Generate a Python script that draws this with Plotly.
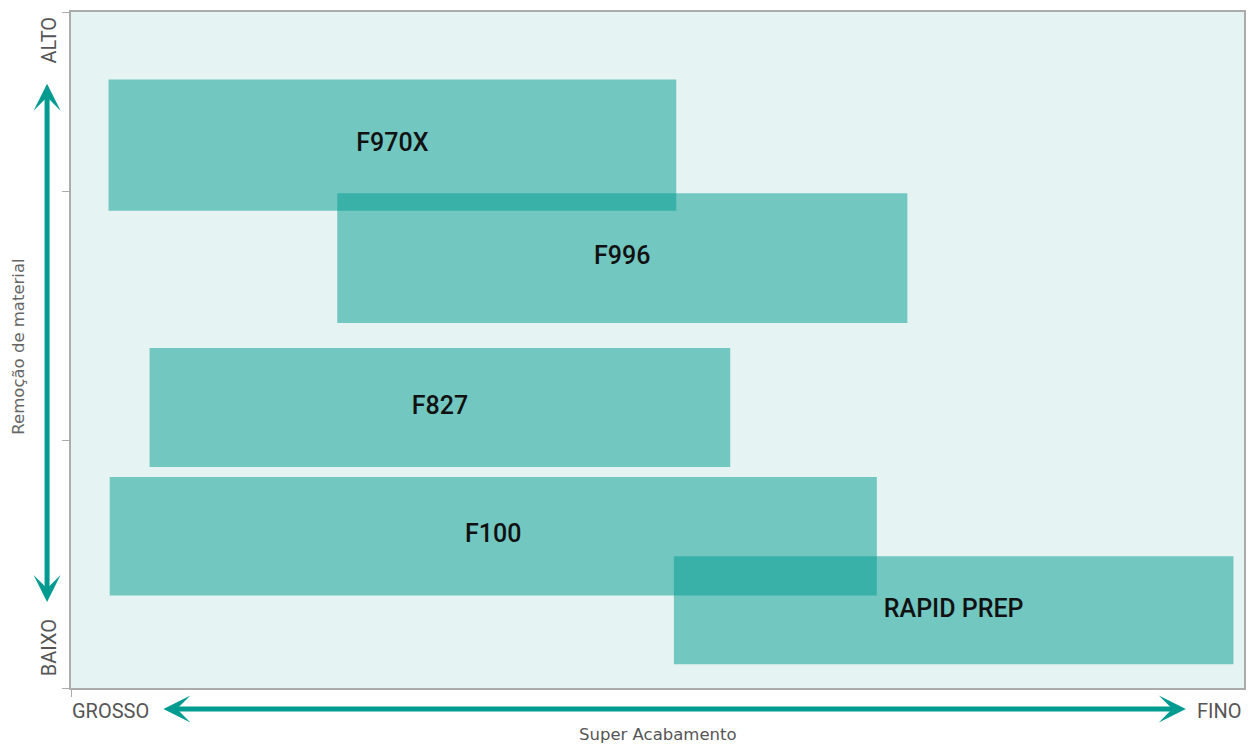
import plotly.graph_objects as go

# Data (normalized 0-100 scales: x = acabamento, y = remoção de material)
products = ["F970X", "F996", "F827", "F100", "RAPID PREP"]
x_start = [3.2, 22.7, 6.7, 3.3, 51.4]
x_end = [51.6, 71.3, 56.2, 68.7, 99.1]
y_low = [70.6, 54.0, 32.7, 13.7, 3.5]
y_high = [90.0, 73.2, 50.3, 31.2, 19.5]
y_ticks = [0, 36.6, 73.4, 100]
x_ticks = [0]

TEAL = "rgb(0,155,144)"
FILL = "rgba(0,155,144,0.5)"
GRAY = "#555555"

fig = go.Figure()

shapes = []
for x0, x1, y0, y1 in zip(x_start, x_end, y_low, y_high):
    shapes.append(dict(type="rect", xref="x", yref="y", x0=x0, x1=x1, y0=y0, y1=y1,
                       fillcolor=FILL, line=dict(width=0), layer="below"))

fig.add_trace(go.Scatter(
    x=[(a + b) / 2 for a, b in zip(x_start, x_end)],
    y=[(a + b) / 2 for a, b in zip(y_low, y_high)],
    text=products, mode="text",
    textfont=dict(family="Roboto", size=25, color="#111111", weight=500),
    hoverinfo="skip", showlegend=False,
))

annotations = [
    # vertical double arrow
    dict(xref="x domain", yref="y domain", axref="x domain", ayref="y domain",
         x=-0.0204, y=0.894, ax=-0.0204, ay=0.125, text="", showarrow=True,
         arrowhead=3, startarrowhead=3, arrowside="end+start", arrowwidth=5,
         arrowsize=0.9, startarrowsize=0.9, arrowcolor=TEAL),
    # horizontal double arrow
    dict(xref="x domain", yref="y domain", axref="x domain", ayref="y domain",
         x=0.9504, y=-0.0310, ax=0.0775, ay=-0.0310, text="", showarrow=True,
         arrowhead=3, startarrowhead=3, arrowside="end+start", arrowwidth=5,
         arrowsize=0.9, startarrowsize=0.9, arrowcolor=TEAL),
    dict(xref="x domain", yref="y domain", x=-0.0187, y=0.958, text="ALTO",
         textangle=-90, showarrow=False, xanchor="center", yanchor="middle",
         font=dict(family="Roboto", size=20, color=GRAY)),
    dict(xref="x domain", yref="y domain", x=-0.0187, y=0.059, text="BAIXO",
         textangle=-90, showarrow=False, xanchor="center", yanchor="middle",
         font=dict(family="Roboto", size=20, color=GRAY)),
    dict(xref="x domain", yref="y domain", x=-0.001, y=-0.034, text="GROSSO",
         showarrow=False, xanchor="left", yanchor="middle",
         font=dict(family="Roboto", size=20, color=GRAY)),
    dict(xref="x domain", yref="y domain", x=1.0, y=-0.034, text="FINO",
         showarrow=False, xanchor="right", yanchor="middle",
         font=dict(family="Roboto", size=20, color=GRAY)),
    dict(xref="x domain", yref="y domain", x=0.5, y=-0.0695, text="Super Acabamento",
         showarrow=False, xanchor="center", yanchor="middle",
         font=dict(family="DejaVu Sans", size=16.5, color=GRAY)),
    dict(xref="x domain", yref="y domain", x=-0.0443, y=0.505, text="Remoção de material",
         textangle=-90, showarrow=False, xanchor="center", yanchor="middle",
         font=dict(family="DejaVu Sans", size=16.5, color="#666666")),
]

fig.update_layout(
    width=1256, height=747,
    margin=dict(l=71, r=11, t=10, b=59),
    paper_bgcolor="white", plot_bgcolor="#e5f3f2",
    shapes=shapes, annotations=annotations, showlegend=False,
    xaxis=dict(range=[0, 100], showgrid=False, zeroline=False, showline=True,
               linecolor="#ababab", linewidth=1.5, mirror=True,
               tickvals=x_ticks, ticktext=[""], ticks="outside", ticklen=7,
               tickcolor="#ababab", fixedrange=True),
    yaxis=dict(range=[0, 100], showgrid=False, zeroline=False, showline=True,
               linecolor="#ababab", linewidth=1.5, mirror=True,
               tickvals=y_ticks, ticktext=[""] * len(y_ticks), ticks="outside", ticklen=7,
               tickcolor="#ababab", fixedrange=True),
)

fig.write_html("out.html", config={"displayModeBar": False},
               post_script="document.body.style.margin='0';document.body.style.overflow='hidden';")
